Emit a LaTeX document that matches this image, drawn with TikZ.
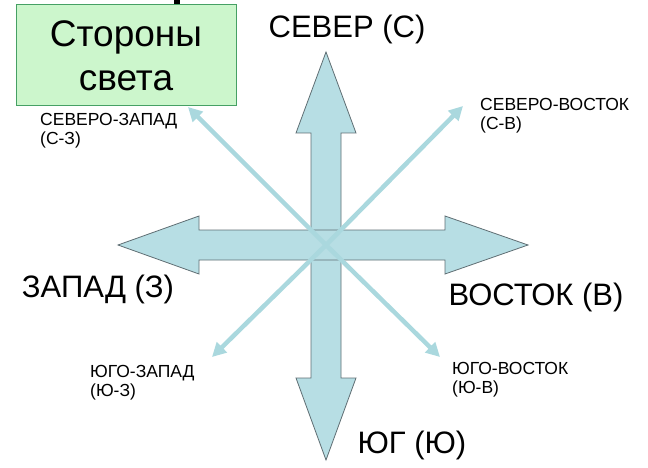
\documentclass[tikz,border=0pt]{standalone}
\usepackage{fontspec}
\setmainfont{Liberation Sans}
\usepackage{xcolor}
\usetikzlibrary{calc, positioning, arrows.meta}
\definecolor{crossfill}{RGB}{183,222,228}
\definecolor{crossline}{RGB}{95,110,115}
\definecolor{diagline}{RGB}{170,216,222}
\definecolor{boxfill}{RGB}{204,246,204}
\definecolor{boxline}{RGB}{70,160,100}
\tikzset{
    cross/.style={draw=crossline, line width=0.8pt, fill=crossfill, line join=miter},
    diag/.style={draw=diagline, line width=4.5pt, -{Triangle[length=14pt, width=14pt]}},
    titlebox/.style={rectangle, draw=boxline, line width=1pt, fill=boxfill, align=center, minimum width=220pt, minimum height=101pt, font=\fontsize{37}{44}\selectfont},
    biglabel/.style={inner sep=0pt, font=\fontsize{31}{34}\selectfont},
    smalllabel/.style={inner sep=0pt, anchor=north west, align=left, font=\fontsize{17.5}{19}\selectfont}
}
\begin{document}
\begin{tikzpicture}[x=1pt, y=-1pt]
        \useasboundingbox (0,0) rectangle (648,468);
        % Centre and tips
        \coordinate (C) at (326,245);
        \coordinate (NW) at (188,107);
        \coordinate (NE) at (463,106);
        \coordinate (SW) at (212,357);
        \coordinate (SE) at (440,357);

        % Cut-off letter above the box
        \fill (174,0) rectangle (180,5);

        % North-south arrow
        \draw[cross] (311,133) -- (296,133) -- (326,52) -- (356,133) -- (341,133)
            -- (341,378) -- (356,378) -- (326,460) -- (296,378) -- (311,378) -- cycle;
        % West-east arrow
        \draw[cross] (199,230) -- (199,216) -- (118,245) -- (199,274) -- (199,260)
            -- (445,260) -- (445,274) -- (528,245) -- (445,216) -- (445,230) -- cycle;

        % Diagonals
        \foreach \tip in {NW, NE, SW, SE}
            \draw[diag] (C) -- (\tip);

        % Title
        \node[titlebox] (Title) at (126,55.5) {Стороны\\света};

        % Main directions
        \node[biglabel] (North) at (347,29) {СЕВЕР (С)};
        \node[biglabel] (West) at (98,289) {ЗАПАД (З)};
        \node[biglabel] (East) at (536,297) {ВОСТОК (В)};
        \node[biglabel] (South) at (412,445) {ЮГ (Ю)};

        % Intermediate directions
        \node[smalllabel] (NWlabel) at (40,113) {СЕВЕРО-ЗАПАД\\(С-З)};
        \node[smalllabel] (NElabel) at (480,98) {СЕВЕРО-ВОСТОК\\(С-В)};
        \node[smalllabel] (SWlabel) at (90,365) {ЮГО-ЗАПАД\\(Ю-З)};
        \node[smalllabel] (SElabel) at (452,362) {ЮГО-ВОСТОК\\(Ю-В)};

    \end{tikzpicture}
\end{document}
